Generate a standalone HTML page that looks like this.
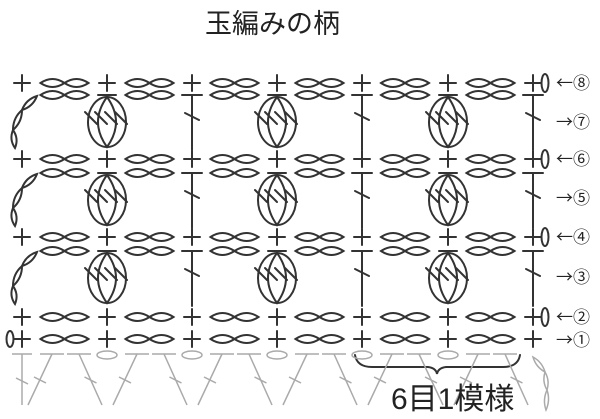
<!DOCTYPE html>
<html><head><meta charset="utf-8"><style>
html,body{margin:0;padding:0;background:#fff;width:600px;height:419px;overflow:hidden}
svg{display:block}
text{font-family:"Liberation Sans","Noto Sans CJK JP",sans-serif;fill:#222}
.lb{font-family:"Noto Sans CJK JP","DejaVu Sans",sans-serif}
</style></head><body>
<svg id="s" width="600" height="419" viewBox="0 0 600 419" xmlns="http://www.w3.org/2000/svg">
<g id="g" fill="none" stroke="#333" stroke-width="2" stroke-linecap="round"></g>
<g id="f" fill="none" stroke="#aaa" stroke-width="1.5"></g>
<text x="205" y="33" font-size="27">玉編みの柄</text>
<text x="391" y="409" font-size="30">6目1模様</text>
<g font-size="17" class="lb">
<text class="lb" x="556" y="89">←⑧</text>
<text class="lb" x="556" y="128">→⑦</text>
<text class="lb" x="556" y="165">←⑥</text>
<text class="lb" x="556" y="204">→⑤</text>
<text class="lb" x="556" y="243">←④</text>
<text class="lb" x="556" y="283">→③</text>
<text class="lb" x="556" y="323">←②</text>
<text class="lb" x="556" y="346">→①</text>
</g>
</svg>
<script>
var g=document.getElementById('g'),f=document.getElementById('f'),h='',hf='';
var C=[22,107,192,277,362,448,533];
function L(a,b,c,d){return '<line x1="'+a+'" y1="'+b+'" x2="'+c+'" y2="'+d+'"/>';}
function lens(x1,y1,x2,y2,w){var mx=(x1+x2)/2,my=(y1+y2)/2,dx=x2-x1,dy=y2-y1,l=Math.hypot(dx,dy),nx=-dy/l*w,ny=dx/l*w;
return '<path d="M'+x1+' '+y1+'Q'+(mx+nx)+' '+(my+ny)+' '+x2+' '+y2+'Q'+(mx-nx)+' '+(my-ny)+' '+x1+' '+y1+'Z"/>';}
function plus(x,y){return L(x-8,y,x+8,y)+L(x,y-8,x,y+8);}
function chains(y){var s='';for(var i=0;i<6;i++){var m=(C[i]+C[i+1])/2;s+=lens(m-24,y,m,y,8)+lens(m,y,m+24,y,8);}return s;}
[83,159,237,317,339].forEach(function(y){h+=chains(y);C.forEach(function(x){h+=plus(x,y);});});
[95,173,251].forEach(function(t){
 h+=chains(t);
 var b=t+55;
 [107,277,448].forEach(function(x){
  h+=L(x-9,t,x+9,t);
  h+='<ellipse cx="'+x+'" cy="'+(t+27)+'" rx="19" ry="25"/>';
  h+='<path d="M'+x+' '+(t+2)+'Q'+(x-18)+' '+(t+27)+' '+x+' '+(t+52)+'Q'+(x+18)+' '+(t+27)+' '+x+' '+(t+2)+'"/>';
  [-16,-6,4,14].forEach(function(o){h+=L(x+o-6,t+17,x+o+6,t+29);});
 });
 [192,362,533].forEach(function(x){h+=L(x-10,t,x+10,t)+L(x,t,x,b)+L(x-7,t+18,x+7,t+25);});
 h+=lens(37,t+1,22,t+15,5)+lens(22,t+15,13,t+35,5)+lens(13,t+35,15,t+53,5);
});
h+='<ellipse cx="10" cy="339" rx="3.5" ry="8"/>';
[83,159,237,317].forEach(function(y){h+='<ellipse cx="545" cy="'+y+'" rx="3.5" ry="9"/>';});
h+='<path d="M355 355Q357 367 372 367L428 367Q436 368 437 374Q438 368 446 367L503 367Q518 367 520 355"/>';
g.innerHTML=h;
var y0=354,yb=405;
hf+=L(12,y0,32,y0)+L(22,y0,22,yb)+L(16,378,28,384);
for(var i=0;i<6;i++){var c=C[i],n=C[i+1];
 if(i>0)hf+='<ellipse cx="'+c+'" cy="'+(y0+1)+'" rx="10" ry="4"/>';
 var d1=c+30,d2=c+57,b1=c+6,b2=n-5;
 hf+=L(d1-12,y0,d1+12,y0)+L(d2-12,y0,d2+12,y0);
 hf+=L(d1,y0,b1,yb)+L(d2,y0,b2,yb);
 var m1=(d1+b1)/2,m2=(d2+b2)/2;
 hf+=L(m1-6,377,m1+6,383)+L(m2-6,377,m2+6,383);
}
hf+=lens(533,357,545,372,4)+lens(545,372,547,390,4)+lens(547,390,546,410,4);
f.innerHTML=hf;
</script>
</body></html>
